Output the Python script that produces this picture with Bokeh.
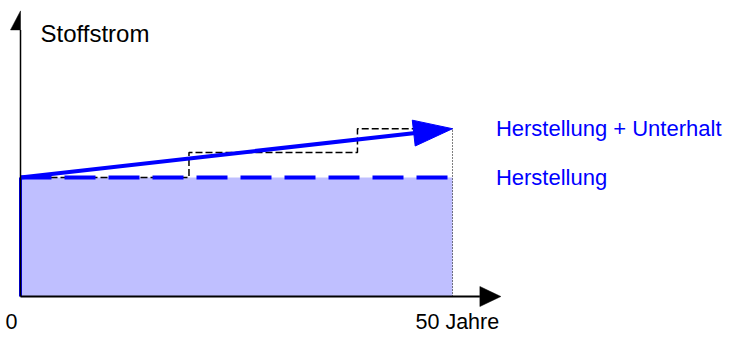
import math
from bokeh.plotting import figure
from bokeh.models import Range1d
from bokeh.core.properties import value
from bokeh.embed import file_html
from bokeh.resources import INLINE

# ---- data (years, Stoffstrom in relative units) ----
years = [0, 50]
herstellung = [100, 100]
trend = [100, 141]                       # Herstellung + Unterhalt (Trend)
step_x = [0, 19.5, 19.5, 39, 39, 50]     # stepwise maintenance
step_y = [100, 100, 121, 121, 141, 141]
y_axis_top = 240
x_axis_end = 55.6
tick_labels = ["0", "50 Jahre"]
series_labels = ["Herstellung + Unterhalt", "Herstellung"]
axis_title = "Stoffstrom"

W, H = 728, 340
PX_X = 8.64   # px per year
PX_Y = 1.19   # px per unit
x0_px, y0_px = 20, 44
xr = Range1d(-x0_px / PX_X, (W - x0_px) / PX_X)
yr = Range1d(-y0_px / PX_Y, (H - y0_px) / PX_Y)

p = figure(width=W, height=H, x_range=xr, y_range=yr, output_backend="svg",
           toolbar_location=None, min_border=0)
p.axis.visible = False
p.grid.visible = False
p.outline_line_color = None

FONT = value("Liberation Sans")
BLUE = "#0000FF"

# filled area (Herstellung)
p.varea(x=years, y1=[0, 0], y2=herstellung, fill_color="#BFBFFF")
p.line(x=[years[0], years[0]], y=[0, herstellung[0]], line_color=BLUE, line_width=3)

# stepwise black dashed line
p.line(x=step_x, y=step_y, line_color="black", line_width=1.5, line_dash="7 3")

# dotted vertical at end
p.line(x=[years[1], years[1]], y=[0, trend[1]], line_color="black", line_width=1, line_dash="1 2")

# dashed Herstellung line
p.line(x=years, y=herstellung, line_color=BLUE, line_width=4, line_dash="31 13")

# trend line with arrowhead
dxp = (years[1] - years[0]) * PX_X
dyp = (trend[1] - trend[0]) * PX_Y
L = math.hypot(dxp, dyp)
ux, uy = dxp / L, dyp / L
head_len, head_w = 39, 26
bx, by = -ux * head_len, -uy * head_len
nx, ny = -uy, ux
hx = [years[1], years[1] + (bx + nx * head_w / 2) / PX_X, years[1] + (bx - nx * head_w / 2) / PX_X]
hy = [trend[1], trend[1] + (by + ny * head_w / 2) / PX_Y, trend[1] + (by - ny * head_w / 2) / PX_Y]
p.line(x=[years[0], years[1] + bx / PX_X + ux * 4 / PX_X],
       y=[trend[0], trend[1] + by / PX_Y + uy * 4 / PX_Y], line_color=BLUE, line_width=4)
p.patch(x=hx, y=hy, fill_color=BLUE, line_color=BLUE)

# axes
p.line(x=[0, 0], y=[0, y_axis_top - 19 / PX_Y], line_color="black", line_width=1.5)
p.patch(x=[0, -10 / PX_X, 0], y=[y_axis_top, y_axis_top - 19 / PX_Y, y_axis_top - 19 / PX_Y],
        fill_color="black", line_color="black", line_width=0.5)
p.line(x=[0, x_axis_end - 21 / PX_X], y=[0, 0], line_color="black", line_width=2)
p.patch(x=[x_axis_end, x_axis_end - 21 / PX_X, x_axis_end - 21 / PX_X],
        y=[0, 10 / PX_Y, -10 / PX_Y], fill_color="black", line_color="black", line_width=0.5)

# texts
p.text(x=[0], y=[y_axis_top], text=[axis_title], x_offset=20, y_offset=23,
       text_font=FONT, text_font_size="24px", text_color="black",
       text_baseline="middle", text_align="left")
p.text(x=[x_axis_end, x_axis_end], y=[trend[1], herstellung[1]], text=series_labels,
       x_offset=-5, text_font=FONT, text_font_size="22px", text_color=BLUE,
       text_baseline="middle", text_align="left")
p.text(x=[0], y=[0], text=[tick_labels[0]], x_offset=-15, y_offset=25,
       text_font=FONT, text_font_size="21.5px", text_color="black",
       text_baseline="middle", text_align="left")
p.text(x=[years[1]], y=[0], text=[tick_labels[1]], x_offset=-37, y_offset=25,
       text_font=FONT, text_font_size="21.5px", text_color="black",
       text_baseline="middle", text_align="left")

open("out.html", "w").write(file_html(p, INLINE))
